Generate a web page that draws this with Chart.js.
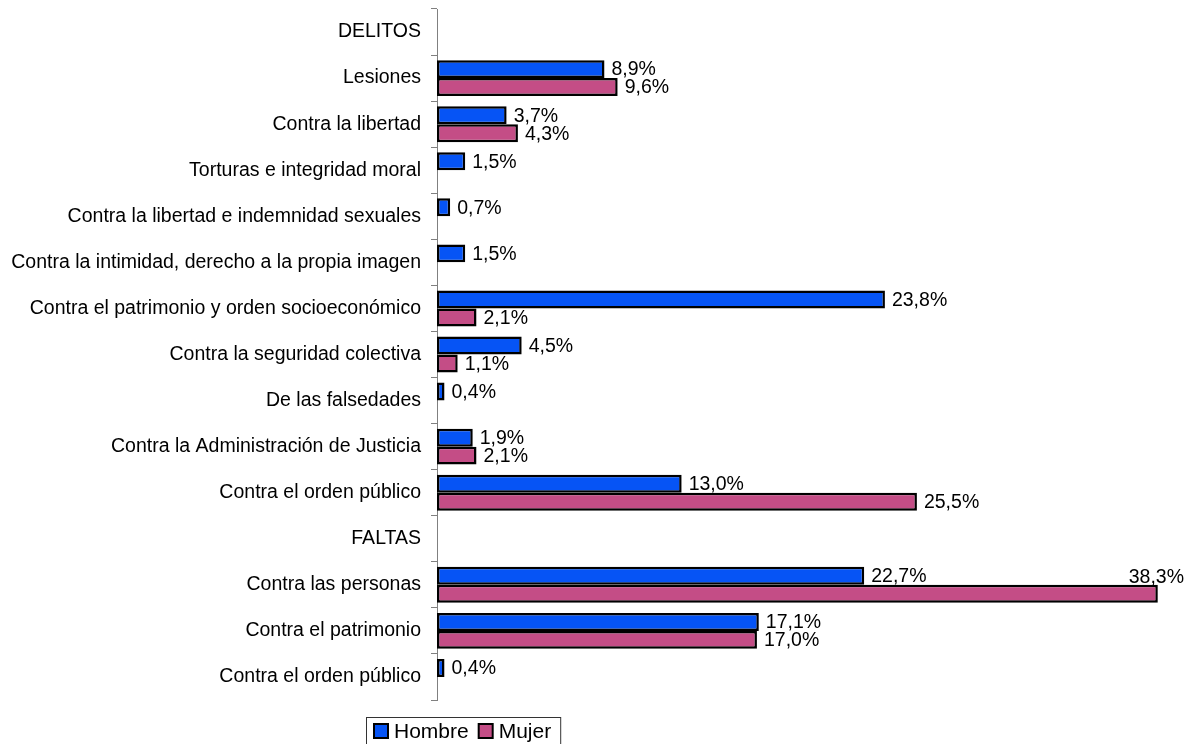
<!DOCTYPE html>
<html>
<head>
<meta charset="utf-8">
<script src="https://cdn.jsdelivr.net/npm/chart.js@4/dist/chart.umd.min.js"></script>
<style>
  html, body { margin: 0; padding: 0; background: #fff; }
  #wrap { width: 1184px; height: 744px; position: relative; }
</style>
</head>
<body>
<div id="wrap"><canvas id="chart"></canvas></div>
<script>
const categories = [
  'DELITOS',
  'Lesiones',
  'Contra la libertad',
  'Torturas e integridad moral',
  'Contra la libertad e indemnidad sexuales',
  'Contra la intimidad, derecho a la propia imagen',
  'Contra el patrimonio y orden socioeconómico',
  'Contra la seguridad colectiva',
  'De las falsedades',
  'Contra la Administración de Justicia',
  'Contra el orden público',
  'FALTAS',
  'Contra las personas',
  'Contra el patrimonio',
  'Contra el orden público'
];
const hombre = [null, 8.9, 3.7, 1.5, 0.7, 1.5, 23.8, 4.5, 0.4, 1.9, 13.0, null, 22.7, 17.1, 0.4];
const mujer = [null, 9.6, 4.3, null, null, null, 2.1, 1.1, null, 2.1, 25.5, null, 38.3, 17.0, null];
const seriesNames = ['Hombre', 'Mujer'];
const seriesColors = ['#0654f5', '#c44d86'];

const FONT = '"Liberation Sans", Arial, Helvetica, sans-serif';

// etiquetas de valor a la derecha de cada barra
const valueLabels = {
  id: 'valueLabels',
  afterDatasetsDraw(chart) {
    const ctx = chart.ctx;
    ctx.save();
    ctx.font = '19.5px ' + FONT;
    ctx.fillStyle = '#000';
    ctx.textBaseline = 'middle';
    chart.data.datasets.forEach((ds, i) => {
      const meta = chart.getDatasetMeta(i);
      meta.data.forEach((bar, j) => {
        const v = ds.data[j];
        if (v == null) return;
        const txt = v.toFixed(1).replace('.', ',') + '%';
        const w = ctx.measureText(txt).width;
        let x = bar.x + 7;
        let y = bar.y + 1;
        if (x + w > chart.width) {
          x = chart.width - w;
          y = bar.y - 16;
        }
        ctx.textAlign = 'left';
        ctx.fillText(txt, x, y);
      });
    });
    ctx.restore();
  }
};

// leyenda con marco, como en el original
const boxLegend = {
  id: 'boxLegend',
  afterDraw(chart) {
    const ctx = chart.ctx;
    ctx.save();
    ctx.font = '21px ' + FONT;
    const left = 366, top = 717, h = 30;
    const sq = 14;
    const items = chart.data.datasets.map(ds => ({ label: ds.label, color: ds.backgroundColor }));
    let total = 8;
    items.forEach((it, k) => {
      total += sq + 6 + ctx.measureText(it.label).width + (k < items.length - 1 ? 10 : 9);
    });
    ctx.strokeStyle = '#333';
    ctx.lineWidth = 1;
    ctx.strokeRect(left + 0.5, top + 0.5, total, h);
    const cy = top + 14;
    let x = left + 8;
    items.forEach(it => {
      ctx.fillStyle = it.color;
      ctx.fillRect(x, cy - sq / 2, sq, sq);
      ctx.strokeStyle = '#000';
      ctx.lineWidth = 2;
      ctx.strokeRect(x, cy - sq / 2, sq, sq);
      ctx.fillStyle = '#000';
      ctx.textBaseline = 'middle';
      ctx.fillText(it.label, x + sq + 6, cy + 1);
      x += sq + 6 + ctx.measureText(it.label).width + 10;
    });
    ctx.restore();
  }
};

new Chart(document.getElementById('chart').getContext('2d'), {
  type: 'bar',
  data: {
    labels: categories,
    datasets: [
      {
        label: seriesNames[0],
        data: hombre,
        backgroundColor: seriesColors[0],
        borderColor: '#000',
        borderWidth: 2.5,
        borderSkipped: false
      },
      {
        label: seriesNames[1],
        data: mujer,
        backgroundColor: seriesColors[1],
        borderColor: '#000',
        borderWidth: 2.5,
        borderSkipped: false
      }
    ]
  },
  options: {
    indexAxis: 'y',
    responsive: true,
    maintainAspectRatio: false,
    animation: false,
    categoryPercentage: 0.78,
    barPercentage: 1.0,
    layout: { padding: { top: 9, right: 13, bottom: 44, left: 0 } },
    plugins: {
      legend: { display: false },
      tooltip: { enabled: false }
    },
    scales: {
      x: {
        display: false,
        min: 0,
        max: 39
      },
      y: {
        afterFit(scale) {
          scale.width = 437;
          scale.paddingTop = 0;
          scale.paddingBottom = 0;
        },
        border: { display: true, color: '#808080', width: 1 },
        grid: {
          display: true,
          drawOnChartArea: false,
          drawTicks: true,
          tickLength: 6,
          color: '#808080',
          offset: true
        },
        ticks: {
          color: '#000',
          padding: 10,
          font: { family: FONT, size: 19.5 }
        }
      }
    }
  },
  plugins: [valueLabels, boxLegend]
});
</script>
</body>
</html>
